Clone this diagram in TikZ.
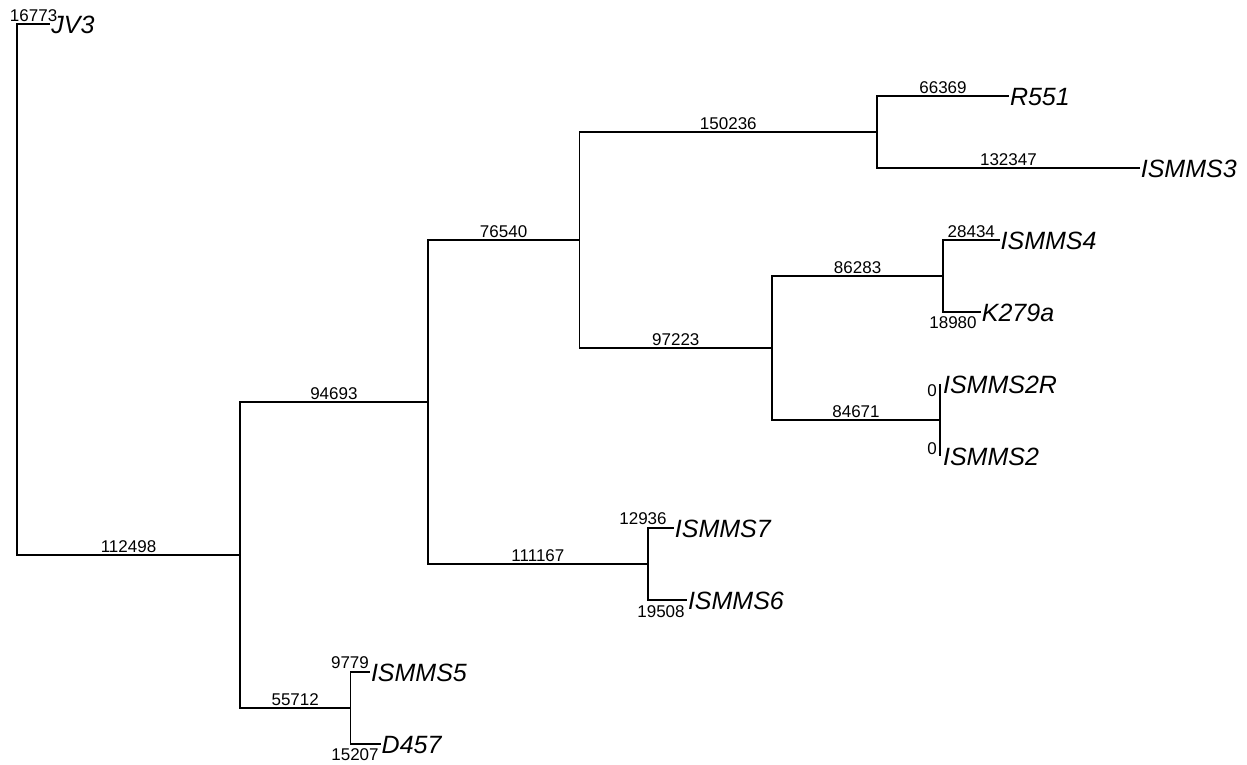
\documentclass[tikz,border=0pt]{standalone}
\usepackage{fontspec}
\setmainfont{Liberation Sans}
\begin{document}
\begin{tikzpicture}[x=1pt,y=-1pt,
  edge/.style={line width=1.8pt,line join=miter},
  leaf/.style={anchor=base west,inner sep=0pt,font=\fontsize{25}{30}\selectfont\itshape},
  blen/.style={anchor=base,inner sep=0pt,font=\fontsize{17}{20}\selectfont},
  blenb/.style={anchor=north,inner sep=0pt,font=\fontsize{17}{20}\selectfont}]
\useasboundingbox (0,0) rectangle (1247,764);
% internal nodes
\coordinate (root) at (17,289.5);
\coordinate (A) at (240,555);
\coordinate (B) at (427.7,402);
\coordinate (C) at (579.4,240);
\coordinate (D) at (877.2,132);
\coordinate (E) at (772.1,348);
\coordinate (F) at (943.1,276);
\coordinate (G) at (939.9,420);
\coordinate (H) at (648.1,564);
\coordinate (I) at (350.4,708);
% leaf ends
\coordinate (lJV3) at (50.2,24);
\coordinate (lR551) at (1008.8,96);
\coordinate (lISMMS3) at (1139.6,168);
\coordinate (lISMMS4) at (999.5,240);
\coordinate (lK279a) at (980.7,312);
\coordinate (lISMMS2R) at (939.9,384);
\coordinate (lISMMS2) at (939.9,456);
\coordinate (lISMMS7) at (673.7,528);
\coordinate (lISMMS6) at (686.8,600);
\coordinate (lISMMS5) at (369.8,672);
\coordinate (lD457) at (380.5,744);
% edges
\draw[edge] (root) |- (lJV3);
\draw[edge] (root) |- (A);
\draw[edge] (A) |- (B);
\draw[edge] (A) |- (I);
\draw[edge] (B) |- (C);
\draw[edge] (B) |- (H);
\draw[edge] (C) |- (D);
\draw[edge] (C) |- (E);
\draw[edge] (D) |- (lR551);
\draw[edge] (D) |- (lISMMS3);
\draw[edge] (E) |- (F);
\draw[edge] (E) |- (G);
\draw[edge] (F) |- (lISMMS4);
\draw[edge] (F) |- (lK279a);
\draw[edge] (G) |- (lISMMS2R);
\draw[edge] (G) |- (lISMMS2);
\draw[edge] (H) |- (lISMMS7);
\draw[edge] (H) |- (lISMMS6);
\draw[edge] (I) |- (lISMMS5);
\draw[edge] (I) |- (lD457);
% leaf names
\node[leaf] (tJV3) at ([shift={(1,9)}]lJV3) {JV3};
\node[leaf] (tR551) at ([shift={(1,9)}]lR551) {R551};
\node[leaf] (tISMMS3) at ([shift={(1,9)}]lISMMS3) {ISMMS3};
\node[leaf] (tISMMS4) at ([shift={(1,9)}]lISMMS4) {ISMMS4};
\node[leaf] (tK279a) at ([shift={(1,9)}]lK279a) {K279a};
\node[leaf] (tISMMS2R) at ([shift={(3,9)}]lISMMS2R) {ISMMS2R};
\node[leaf] (tISMMS2) at ([shift={(3,9)}]lISMMS2) {ISMMS2};
\node[leaf] (tISMMS7) at ([shift={(1,9)}]lISMMS7) {ISMMS7};
\node[leaf] (tISMMS6) at ([shift={(1,9)}]lISMMS6) {ISMMS6};
\node[leaf] (tISMMS5) at ([shift={(1,9)}]lISMMS5) {ISMMS5};
\node[leaf] (tD457) at ([shift={(1,9)}]lD457) {D457};
% branch lengths
\node[blen] (b1) at (33.6,21) {16773};
\node[blen] (b2) at (128.5,552) {112498};
\node[blen] (b3) at (333.9,399) {94693};
\node[blen] (b4) at (295.2,705) {55712};
\node[blen] (b5) at (503.6,237) {76540};
\node[blen] (b6) at (537.9,561) {111167};
\node[blen] (b7) at (728.3,129) {150236};
\node[blen] (b8) at (675.8,345) {97223};
\node[blen] (b9) at (943,93) {66369};
\node[blen] (b10) at (1008.4,165) {132347};
\node[blen] (b11) at (857.6,273) {86283};
\node[blen] (b12) at (856,417) {84671};
\node[blen] (b13) at (971.3,237) {28434};
\node[blenb] (b14) at (953,316) {18980};
\node[blenb,anchor=north east] (b15) at (937,384) {0};
\node[blen,anchor=base east] (b16) at (937,454) {0};
\node[blen] (b17) at (643,524) {12936};
\node[blenb] (b18) at (661,605) {19508};
\node[blen] (b19) at (350,668) {9779};
\node[blenb] (b20) at (355,748) {15207};
\end{tikzpicture}
\end{document}
